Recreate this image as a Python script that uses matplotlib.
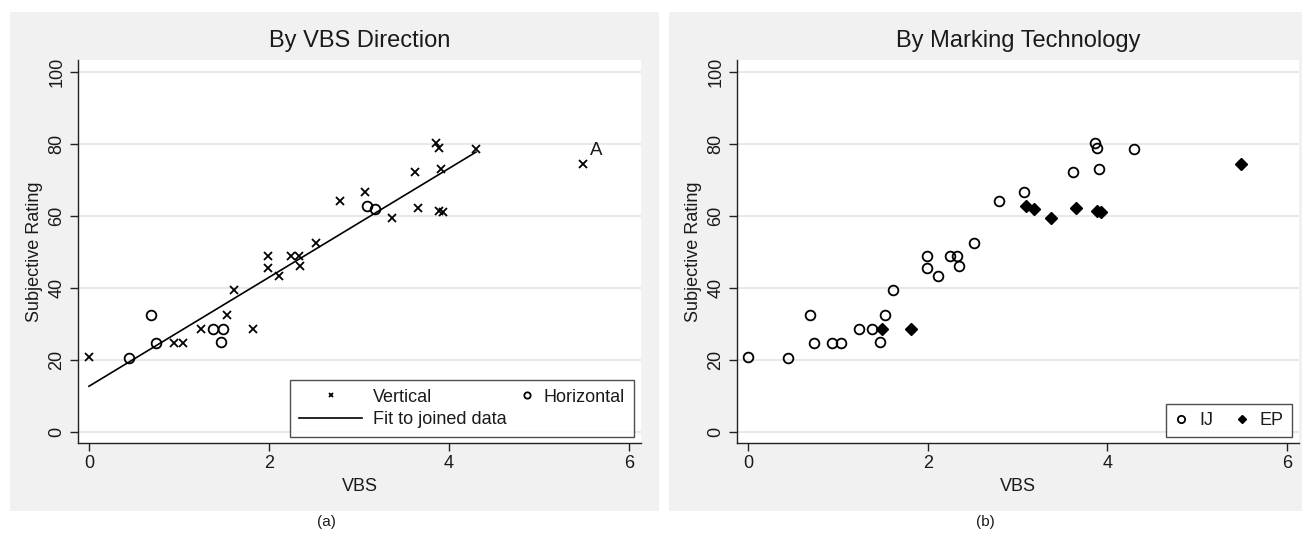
import numpy as np
import matplotlib
matplotlib.use('Agg')
import matplotlib.pyplot as plt
from matplotlib.patches import Rectangle
from matplotlib.legend_handler import HandlerLine2D

plt.rcParams['font.family'] = ['Liberation Sans', 'DejaVu Sans']

# VBS, Bewertung, Richtung (V/H) und Markiertechnik (IJ/EP) je Probe
vbs = [0.00, 0.45, 0.69, 0.74, 0.94, 1.04, 1.24, 1.38, 1.49, 1.47, 1.53, 1.61,
       1.82, 1.99, 1.99, 2.11, 2.25, 2.33, 2.35, 2.52, 2.79, 3.07, 3.09, 3.18,
       3.37, 3.62, 3.65, 3.86, 3.89, 3.91, 3.89, 3.93, 4.30, 5.49]
rating = [20.7, 20.6, 32.4, 24.8, 24.8, 24.8, 28.7, 28.7, 28.6, 24.9, 32.4, 39.4,
          28.6, 48.8, 45.4, 43.4, 49.0, 48.8, 46.0, 52.4, 64.1, 66.7, 62.8, 62.0,
          59.3, 72.2, 62.1, 80.3, 79.0, 73.1, 61.4, 61.2, 78.6, 74.5]
direction = ['V', 'H', 'H', 'H', 'V', 'V', 'V', 'H', 'H', 'H', 'V', 'V',
             'V', 'V', 'V', 'V', 'V', 'V', 'V', 'V', 'V', 'V', 'H', 'H',
             'V', 'V', 'V', 'V', 'V', 'V', 'V', 'V', 'V', 'V']
tech = ['IJ', 'IJ', 'IJ', 'IJ', 'IJ', 'IJ', 'IJ', 'IJ', 'EP', 'IJ', 'IJ', 'IJ',
        'EP', 'IJ', 'IJ', 'IJ', 'IJ', 'IJ', 'IJ', 'IJ', 'IJ', 'IJ', 'EP', 'EP',
        'EP', 'IJ', 'EP', 'IJ', 'IJ', 'IJ', 'EP', 'EP', 'IJ', 'EP']
outlier = 33  # Punkt "A"

titles = ['By VBS Direction', 'By Marking Technology']
captions = ['(a)', '(b)']
xticks = [0, 2, 4, 6]
yticks = [0, 20, 40, 60, 80, 100]

x = np.array(vbs)
y = np.array(rating)
d = np.array(direction)
t = np.array(tech)


class RightMarker(HandlerLine2D):
    """Marker am rechten Ende des Legendenfelds statt in der Mitte."""
    def create_artists(self, legend, orig_handle, xdescent, ydescent,
                       width, height, fontsize, trans):
        arts = super().create_artists(legend, orig_handle, xdescent, ydescent,
                                      width, height, fontsize, trans)
        for a in arts:
            xd = list(a.get_xdata())
            xr = xd[-1] - 0.3 * fontsize
            if len(xd) == 3:
                a.set_xdata([xd[0], xr, xd[2]])
            elif len(xd) == 1:
                a.set_xdata([xr])
        return arts


W, H = 1303, 537
fig = plt.figure(figsize=(W / 100, H / 100), dpi=100)
txt = '#1a1a1a'
fs = 13

# graue Hintergrundflächen wie in Stata
for x0, x1 in [(10, 659), (669, 1302)]:
    fig.add_artist(Rectangle((x0 / W, 1 - 511 / H), (x1 - x0) / W, 499 / H,
                             transform=fig.transFigure, facecolor='#f1f1f1',
                             edgecolor='none', zorder=-1))

ax1 = fig.add_axes([78 / W, 1 - 443 / H, 563 / W, 383 / H])
ax2 = fig.add_axes([737 / W, 1 - 443 / H, 562 / W, 383 / H])

for ax, title in zip([ax1, ax2], titles):
    ax.set_facecolor('white')
    ax.set_xlim(-0.122, 6.133)
    ax.set_ylim(-3.06, 103.3)
    ax.set_xticks(xticks)
    ax.set_yticks(yticks)
    ax.set_yticklabels([str(v) for v in yticks], rotation=90, va='center')
    ax.tick_params(direction='out', length=6, width=1, color='#222222',
                   labelsize=fs, labelcolor=txt, pad=3)
    for s in ['top', 'right']:
        ax.spines[s].set_visible(False)
    for s in ['left', 'bottom']:
        ax.spines[s].set_color('#222222')
        ax.spines[s].set_linewidth(1)
    ax.grid(axis='y', color='#e6e6e6', linewidth=1.3)
    ax.set_axisbelow(True)
    ax.set_xlabel('VBS', fontsize=fs, color=txt, labelpad=4)
    ax.set_ylabel('Subjective Rating', fontsize=fs, color=txt, labelpad=4)
    ax.set_title(title, fontsize=17, color=txt, pad=9)

for cx, cap in zip([326, 985], captions):
    fig.text(cx / W, 1 - 522 / H, cap, ha='center', va='center',
             fontsize=11, color=txt)

# (a) nach Richtung, mit Regressionsgerade ohne Punkt A
mv = d == 'V'
mh = d == 'H'
ax1.plot(x[mv], y[mv], 'x', color='black', ms=5.5, mew=1.3, label='Vertical')
keep = np.arange(len(x)) != outlier
k, c = np.polyfit(x[keep], y[keep], 1)
xf = np.array([x[keep].min(), x[keep].max()])
ax1.plot(xf, k * xf + c, '-', color='black', lw=1.2, label='Fit to joined data')
hor, = ax1.plot(x[mh], y[mh], 'o', mfc='none', mec='black', ms=7, mew=1.3,
                label='Horizontal')
ax1.text(x[outlier] + 0.08, y[outlier] + 1.2, 'A', fontsize=13.5, color=txt,
         ha='left', va='bottom')
leg1 = ax1.legend(loc='lower left', bbox_to_anchor=(0.3766, 0.0157, 0.611, 0.146),
                  mode='expand', ncol=2, fontsize=fs, frameon=True,
                  fancybox=False, edgecolor='#222222', handlelength=3.5,
                  borderaxespad=0, labelspacing=0.3, markerscale=0.65,
                  borderpad=0.5, columnspacing=1.0, handletextpad=0.6,
                  handler_map={hor: RightMarker()})
leg1.get_frame().set_linewidth(1)
for tx in leg1.get_texts():
    tx.set_color(txt)

# (b) nach Markiertechnik
mi = t == 'IJ'
me = t == 'EP'
ax2.plot(x[mi], y[mi], 'o', mfc='none', mec='black', ms=7, mew=1.3, label='IJ')
ax2.plot(x[me], y[me], 'D', color='black', ms=6, label='EP')
leg2 = ax2.legend(loc='lower right', bbox_to_anchor=(0.9875, 0.0157), ncol=2,
                  fontsize=fs, frameon=True, fancybox=False,
                  edgecolor='#222222', handlelength=0.8, handletextpad=0.6,
                  borderaxespad=0, markerscale=0.75, borderpad=0.45,
                  columnspacing=1.2)
leg2.get_frame().set_linewidth(1)
for tx in leg2.get_texts():
    tx.set_color(txt)

fig.savefig('out.png', dpi=100, facecolor='white')
